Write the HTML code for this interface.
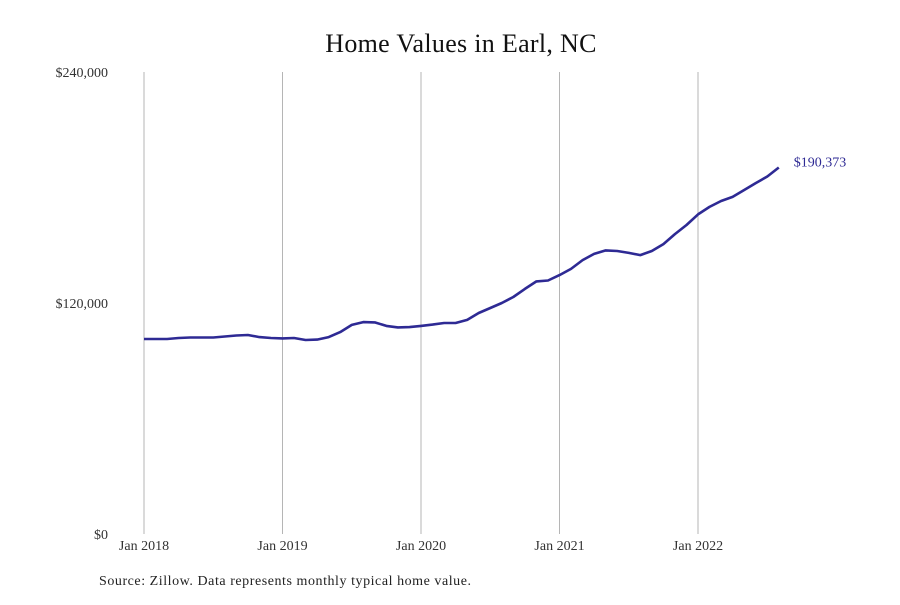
<!DOCTYPE html>
<html><head><meta charset="utf-8"><style>
body{margin:0;background:#fff;}
svg text{font-family:"Liberation Serif",serif;}
</style></head><body>
<svg width="900" height="600" xmlns="http://www.w3.org/2000/svg">
<text x="461" y="52" text-anchor="middle" font-size="26" letter-spacing="0.3" fill="#111">Home Values in Earl, NC</text>
<g id="grid"></g><g id="yaxis"></g><g id="xaxis"></g>
<path id="line" fill="none" stroke="#2e2a94" stroke-width="2.6" stroke-linejoin="round"/>
<text id="endlabel" font-size="14" fill="#2e2a94"></text>
<text x="99" y="585" font-size="14" textLength="372" lengthAdjust="spacing" fill="#222">Source: Zillow. Data represents monthly typical home value.</text>
</svg>
<script>
const values=[101.3,101.3,101.3,101.8,102.1,102.1,102.1,102.6,103.1,103.4,102.3,101.8,101.6,101.8,100.8,101.0,102.3,104.9,108.6,110.1,109.9,108.1,107.3,107.5,108.1,108.8,109.6,109.6,111.2,114.8,117.4,120.0,123.1,127.3,131.2,131.7,134.5,137.7,142.3,145.5,147.3,147.0,146.0,144.9,147.0,150.6,155.8,160.5,166.0,169.9,173.0,175.1,178.7,182.3,185.7,190.373];
const yTicks=[0,120000,240000];
const yTickLabels=["$0","$120,000","$240,000"];
const xTickMonths=[0,12,24,36,48];
const xTickLabels=["Jan 2018","Jan 2019","Jan 2020","Jan 2021","Jan 2022"];
const lastLabel="$190,373";
const NS="http://www.w3.org/2000/svg";
const x=m=>144+m*(698-144)/48;
const y=v=>534-v*(534-72)/240000;
function mk(t,a,p){const e=document.createElementNS(NS,t);for(const k in a)e.setAttribute(k,a[k]);p.appendChild(e);return e;}
const grid=document.getElementById('grid'),ya=document.getElementById('yaxis'),xa=document.getElementById('xaxis');
xTickMonths.forEach((m,i)=>{
 const l=mk('line',{x1:x(m),x2:x(m),y1:72,y2:534,stroke:'#b5b5b5','stroke-width':1},grid);
 
 
 const t=mk('text',{x:x(m),y:550,'text-anchor':'middle','font-size':14,fill:'#333'},xa);
 t.textContent=xTickLabels[i];
 
 
});
yTicks.forEach((v,i)=>{
 const t=mk('text',{x:108,y:y(v)+5,'text-anchor':'end','font-size':14,fill:'#333'},ya);
 t.textContent=yTickLabels[i];
 
 
});
document.getElementById('line').setAttribute('d',values.map((v,i)=>(i?'L':'M')+x(i).toFixed(1)+','+y(v*1000).toFixed(1)).join(''));
const n=values.length-1,el=document.getElementById('endlabel');
el.setAttribute('x',x(n)+15);el.setAttribute('y',y(values[n]*1000)-1);el.textContent=lastLabel;
</script>
</body></html>
